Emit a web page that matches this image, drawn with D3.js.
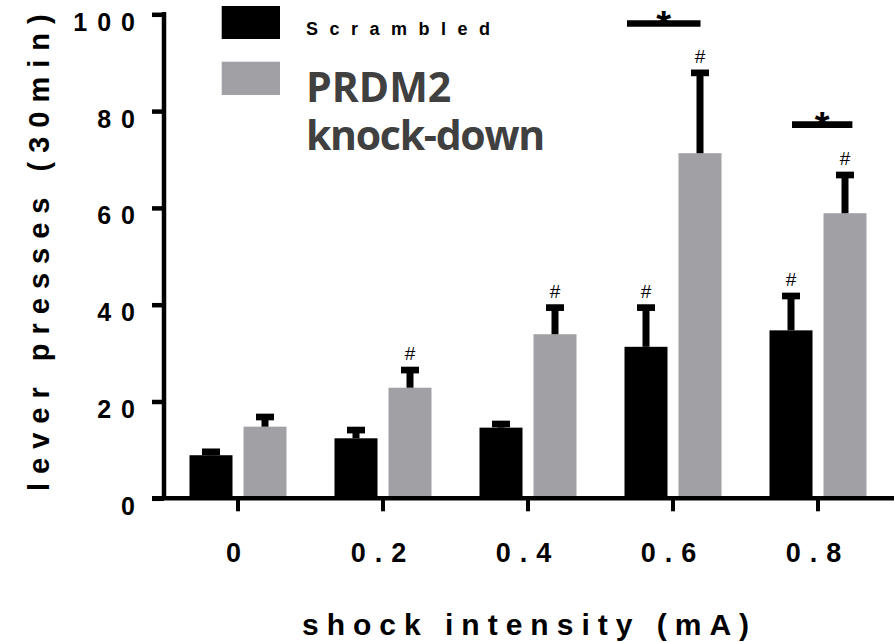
<!DOCTYPE html>
<html>
<head>
<meta charset="utf-8">
<script src="https://cdn.jsdelivr.net/npm/d3@7"></script>
<style>
  body { margin: 0; background: #fff; }
  svg { display: block; }
</style>
</head>
<body>
<div id="chart"></div>
<script>
// data
var shockLevels = ["0", "0.2", "0.4", "0.6", "0.8"];
var groups = ["Scrambled", "PRDM2 knock-down"];
var scrambledMean = [8.9, 12.4, 14.6, 31.3, 34.7];
var scrambledSem = [0.7, 1.7, 0.75, 8.1, 7.1];
var knockMean = [14.8, 22.85, 33.9, 71.3, 58.9];
var knockSem = [2.0, 3.65, 5.5, 16.6, 7.9];
var scrambledHash = [false, false, false, true, true];
var knockHash = [false, true, true, true, true];
var yTicks = [0, 20, 40, 60, 80, 100];
// significance bars: level on the y scale
var starLevels = ["0.6", "0.8"];
var starY = [98.1, 77.2];

var width = 894, height = 642;
var colors = ["#000000", "#a1a0a5"];
var sans = "'Liberation Sans', Arial, sans-serif";

var svg = d3.select("#chart").append("svg")
  .attr("width", width)
  .attr("height", height);

svg.append("rect").attr("width", width).attr("height", height).attr("fill", "#fff");

var y = d3.scaleLinear().domain([0, 100]).range([498.3, 14.3]);
var x = d3.scaleBand().domain(shockLevels).range([165.5, 890.5]);
var xSub = d3.scaleBand().domain(groups).range([-48.5, 48.5]).paddingInner(0.2037);

// rows for the bars
var rows = [];
shockLevels.forEach(function(s, i) {
  rows.push({ level: s, group: groups[0], mean: scrambledMean[i], sem: scrambledSem[i], hash: scrambledHash[i], c: colors[0] });
  rows.push({ level: s, group: groups[1], mean: knockMean[i], sem: knockSem[i], hash: knockHash[i], c: colors[1] });
});
function cx(d) { return x(d.level) + x.bandwidth() / 2 + xSub(d.group) + xSub.bandwidth() / 2; }

// bars
svg.append("g").selectAll("rect").data(rows).enter().append("rect")
  .attr("x", function(d) { return x(d.level) + x.bandwidth() / 2 + xSub(d.group); })
  .attr("y", function(d) { return y(d.mean); })
  .attr("width", xSub.bandwidth())
  .attr("height", function(d) { return y(0) - y(d.mean); })
  .attr("fill", function(d) { return d.c; });

// error bars (upper only)
var err = svg.append("g");
err.selectAll("line.stem").data(rows).enter().append("line")
  .attr("class", "stem")
  .attr("x1", cx).attr("x2", cx)
  .attr("y1", function(d) { return y(d.mean); })
  .attr("y2", function(d) { return y(d.mean + d.sem); })
  .attr("stroke", "#000").attr("stroke-width", 7);
err.selectAll("line.cap").data(rows).enter().append("line")
  .attr("class", "cap")
  .attr("x1", function(d) { return cx(d) - 9; })
  .attr("x2", function(d) { return cx(d) + 9; })
  .attr("y1", function(d) { return y(d.mean + d.sem); })
  .attr("y2", function(d) { return y(d.mean + d.sem); })
  .attr("stroke", "#000").attr("stroke-width", 6.7);

// # markers
svg.append("g").selectAll("text").data(rows.filter(function(d) { return d.hash; })).enter().append("text")
  .attr("x", cx)
  .attr("y", function(d) { return y(d.mean + d.sem) - 10; })
  .attr("text-anchor", "middle")
  .attr("font-family", sans)
  .attr("font-size", 19)
  .attr("fill", "#000")
  .text("#");

// * significance bars
var spans = [[-46, 27.5], [-26, 34.4]];
starLevels.forEach(function(s, i) {
  var c = x(s) + x.bandwidth() / 2;
  svg.append("text")
    .attr("x", c + (spans[i][0] + spans[i][1]) / 2)
    .attr("y", y(starY[i]) + 14.5)
    .attr("text-anchor", "middle")
    .attr("font-family", sans)
    .attr("font-weight", "bold")
    .attr("font-size", 38)
    .text("*");
  svg.append("line")
    .attr("x1", c + spans[i][0]).attr("x2", c + spans[i][1])
    .attr("y1", y(starY[i])).attr("y2", y(starY[i]))
    .attr("stroke", "#000").attr("stroke-width", 6.7);
});

// y axis
var yAxis = svg.append("g")
  .attr("transform", "translate(164,0)")
  .call(d3.axisLeft(y).tickValues(yTicks).tickSize(12).tickSizeOuter(0).tickFormat(d3.format("d")));
yAxis.select(".domain").remove();
yAxis.selectAll(".tick line").attr("stroke", "#000").attr("stroke-width", 4.5);
yAxis.selectAll(".tick text")
  .attr("x", -19).attr("dy", 16)
  .attr("font-family", sans).attr("font-weight", "bold")
  .attr("font-size", 25).attr("letter-spacing", 10)
  .attr("fill", "#000");
svg.append("line")
  .attr("x1", 164).attr("x2", 164)
  .attr("y1", y(100) - 2.2).attr("y2", y(0))
  .attr("stroke", "#000").attr("stroke-width", 4.5);

// x axis
var xAxis = svg.append("g")
  .attr("transform", "translate(0," + y(0) + ")")
  .call(d3.axisBottom(x).tickSize(13).tickSizeOuter(0));
xAxis.select(".domain").remove();
xAxis.selectAll(".tick line").attr("stroke", "#000").attr("stroke-width", 4);
xAxis.selectAll(".tick text")
  .attr("y", 63.4).attr("dy", 0)
  .attr("font-family", sans).attr("font-weight", "bold")
  .attr("font-size", 27).attr("letter-spacing", 9)
  .attr("fill", "#000");
svg.append("line")
  .attr("x1", 152).attr("x2", width)
  .attr("y1", y(0)).attr("y2", y(0))
  .attr("stroke", "#000").attr("stroke-width", 4.5);

// axis titles
svg.append("text")
  .attr("x", 302).attr("y", 635)
  .attr("font-family", sans).attr("font-weight", "bold")
  .attr("font-size", 30).attr("letter-spacing", 8)
  .text("shock intensity (mA)");

svg.append("text")
  .attr("transform", "translate(49,491) rotate(-90)")
  .attr("font-family", sans).attr("font-weight", "bold")
  .attr("font-size", 29).attr("letter-spacing", 9)
  .text("lever presses (30min)");

// legend
svg.append("rect").attr("x", 221.7).attr("y", 6).attr("width", 58.3).attr("height", 33).attr("fill", colors[0]);
svg.append("rect").attr("x", 221.7).attr("y", 61.7).attr("width", 58.3).attr("height", 33.3).attr("fill", colors[1]);
svg.append("text")
  .attr("x", 306).attr("y", 35)
  .attr("font-family", sans).attr("font-weight", "bold")
  .attr("font-size", 18).attr("letter-spacing", 11.5)
  .text(groups[0]);
var kd = svg.append("text")
  .attr("font-family", "'Open Sans', sans-serif").attr("font-weight", "bold")
  .attr("font-size", 41).attr("fill", "#404040");
kd.append("tspan").attr("x", 306).attr("y", 101.7).text("PRDM2");
kd.append("tspan").attr("x", 306).attr("y", 150).attr("letter-spacing", -1.3).text("knock-down");
</script>
</body>
</html>
